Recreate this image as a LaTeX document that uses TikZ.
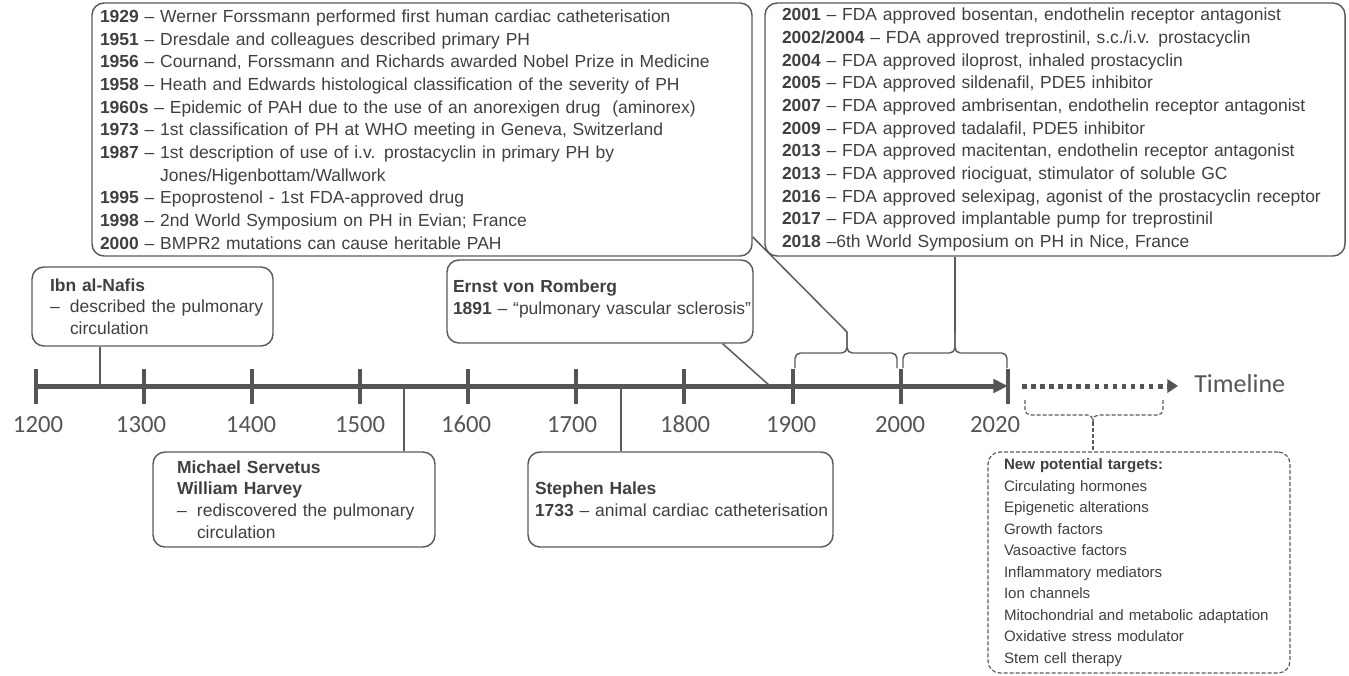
\documentclass[tikz,border=0pt]{standalone}
\usepackage{fontspec}
\setmainfont{Liberation Sans}
\newfontfamily\axisfont{Carlito}
\usetikzlibrary{arrows.meta,positioning,calc}
\usepackage{xcolor}
\definecolor{boxgray} {RGB}{ 90,  90,  90}
\definecolor{textgray}{RGB}{ 64,  64,  64}
\definecolor{axisgray}{RGB}{ 85,  85,  85}

\begin{document}
\begin{tikzpicture}[
  x=0.75pt,y=-0.75pt,
  every node/.style={text=textgray},
  evbox/.style={draw=boxgray,line width=1.1pt,rounded corners=9pt,
    align=left,inner ysep=0pt,font=\fontsize{13.1}{16.2}\selectfont},
  bigbox/.style={evbox,font=\fontsize{13.1}{17}\selectfont},
  futbox/.style={evbox,line width=0.9pt,dash pattern=on 3pt off 1.5pt,
    font=\fontsize{11.3}{16.1}\selectfont},
  link/.style={draw=boxgray,line width=1.1pt},
  brace/.style={draw=boxgray,line width=1.1pt,rounded corners=4pt},
  tick/.style={draw=axisgray,line width=3pt},
  yearlbl/.style={anchor=base,font=\axisfont\fontsize{18.5}{20}\selectfont,
    text=axisgray},
]
\useasboundingbox (0,0) rectangle (1349,675);

%% Time axis
\draw[axisgray,line width=3.75pt,-{Triangle[length=11pt,width=10pt]}]
  (36,386) -- (1008,386);
\foreach \yr/\x/\lx in {1200/36/38,1300/144/141,1400/252/251,1500/360/360,
    1600/468/466,1700/576/572,1800/684/685,1900/793/791,2000/901/900,
    2020/1008/995} {
  \draw[tick] (\x,369) -- (\x,404);
  \node[yearlbl] (y\yr) at (\lx,432) {\yr};
}

%% Future (dotted) part
\draw[axisgray,line width=3.75pt,dash pattern=on 3.4pt off 3.4pt,
  -{Triangle[length=8pt,width=10pt]}] (1022,386) -- (1178,386);
\node[anchor=west,inner sep=0pt,text=axisgray,
  font=\axisfont\fontsize{19.5}{22}\selectfont] (tl) at (1194,384) {Timeline};

%% ── Top: 20th century ────────────────────────────────────────────────────
\node[bigbox,minimum width=495pt,minimum height=189.75pt,
  text width=483pt,inner xsep=6pt] (box1929) at (422,129.5) {%
  \textbf{1929} – Werner Forssmann performed first human cardiac catheterisation\\
  \textbf{1951} – Dresdale and colleagues described primary PH\\
  \textbf{1956} – Cournand, Forssmann and Richards awarded Nobel Prize in Medicine\\
  \textbf{1958} – Heath and Edwards histological classification of the severity of PH\\
  \textbf{1960s} – Epidemic of PAH due to the use of an anorexigen drug\ \ (aminorex)\\
  \textbf{1973} – 1st classification of PH at WHO meeting in Geneva, Switzerland\\
  \textbf{1987} – 1st description of use of i.v. prostacyclin in primary PH by\\
  \hphantom{\textbf{1987} – }Jones/Higenbottam/Wallwork\\
  \textbf{1995} – Epoprostenol - 1st FDA-approved drug\\
  \textbf{1998} – 2nd World Symposium on PH in Evian; France\\
  \textbf{2000} – BMPR2 mutations can cause heritable PAH};

%% ── Top: 21st century ────────────────────────────────────────────────────
\node[bigbox,minimum width=435pt,minimum height=189.75pt,
  text width=409.5pt,inner xsep=12.75pt] (box2001) at (1055,129.5) {%
  \textbf{2001} – FDA approved bosentan, endothelin receptor antagonist\\
  \textbf{2002/2004} – FDA approved treprostinil, s.c./i.v. prostacyclin\\
  \textbf{2004} – FDA approved iloprost, inhaled prostacyclin\\
  \textbf{2005} – FDA approved sildenafil, PDE5 inhibitor\\
  \textbf{2007} – FDA approved ambrisentan, endothelin receptor antagonist\\
  \textbf{2009} – FDA approved tadalafil, PDE5 inhibitor\\
  \textbf{2013} – FDA approved macitentan, endothelin receptor antagonist\\
  \textbf{2013} – FDA approved riociguat, stimulator of soluble GC\\
  \textbf{2016} – FDA approved selexipag, agonist of the prostacyclin receptor\\
  \textbf{2017} – FDA approved implantable pump for treprostinil\\
  \textbf{2018} –6th World Symposium on PH in Nice, France};

%% ── Early events ─────────────────────────────────────────────────────────
\node[evbox,minimum width=180.75pt,minimum height=59.25pt,
  text width=153.75pt,inner xsep=13.5pt] (boxNafis) at (152.5,306.5) {%
  \textbf{Ibn al-Nafis}\\
  \mbox{\makebox[15pt][l]{–}described the pulmonary}\\
  \hspace*{15pt}circulation};
\node[evbox,minimum width=229.5pt,minimum height=62.25pt,
  text width=220.5pt,inner xsep=4.5pt] (boxRomberg) at (600,301.5) {%
  \textbf{Ernst von Romberg}\\
  \mbox{\textbf{1891} – “pulmonary vascular sclerosis”}\\[-10pt]\mbox{}};
\node[evbox,minimum width=211.5pt,minimum height=71.25pt,
  text width=175.5pt,inner xsep=18pt] (boxServetus) at (294,499.5) {%
  \textbf{Michael Servetus}\\
  \textbf{William Harvey}\\
  \mbox{\makebox[15pt][l]{–}rediscovered the pulmonary}\\
  \hspace*{15pt}circulation};
\node[evbox,minimum width=228.75pt,minimum height=71.25pt,
  text width=218.25pt,inner xsep=5.25pt] (boxHales) at (680.5,499.5) {%
  \textbf{Stephen Hales}\\
  \mbox{\textbf{1733} – animal cardiac catheterisation}};

%% ── Future ───────────────────────────────────────────────────────────────
\node[futbox,minimum width=226.5pt,minimum height=165.75pt,
  text width=202.5pt,inner xsep=12pt] (boxTargets) at (1139,562.5) {%
  \textbf{New potential targets:}\\
  Circulating hormones\\
  Epigenetic alterations\\
  Growth factors\\
  Vasoactive factors\\
  Inflammatory mediators\\
  Ion channels\\
  \mbox{Mitochondrial and metabolic adaptation}\\
  Oxidative stress modulator\\
  Stem cell therapy};

%% Anchors on the axis
\coordinate (tNafis)    at (100,386);
\coordinate (tServetus) at (404,386);
\coordinate (tHales)    at (621,386);
\coordinate (tRomberg)  at (770,386);

\draw[link] (tNafis) -- (tNafis |- boxNafis.south);
\draw[link] (tServetus) -- (tServetus |- boxServetus.north);
\draw[link] (tHales) -- (tHales |- boxHales.north);
\draw[link] (tRomberg) -- (boxRomberg.-19);

%% Braces
\coordinate (brA) at (847,332);
\coordinate (brB) at (955,332);
\coordinate (brC) at (1093,422);
\draw[brace] (795,368) |- (847,353) -- (brA);
\draw[brace] (897,368) |- (847,353) -- (brA);
\draw[brace] (903,368) |- (955,353) -- (brB);
\draw[brace] (1007,368) |- (955,353) -- (brB);
\draw[brace,line width=0.9pt,dash pattern=on 3pt off 1.5pt]
  (1025,400) |- (1093,415) -- (brC);
\draw[brace,line width=0.9pt,dash pattern=on 3pt off 1.5pt]
  (1163,400) |- (1093,415) -- (brC);

\draw[link] (brA) -- (box1929.-18);
\draw[link] (brB) -- (brB |- box2001.south);
\draw[link,line width=0.9pt,dash pattern=on 3pt off 1.5pt]
  (brC) -- (brC |- boxTargets.north);

\end{tikzpicture}
\end{document}
